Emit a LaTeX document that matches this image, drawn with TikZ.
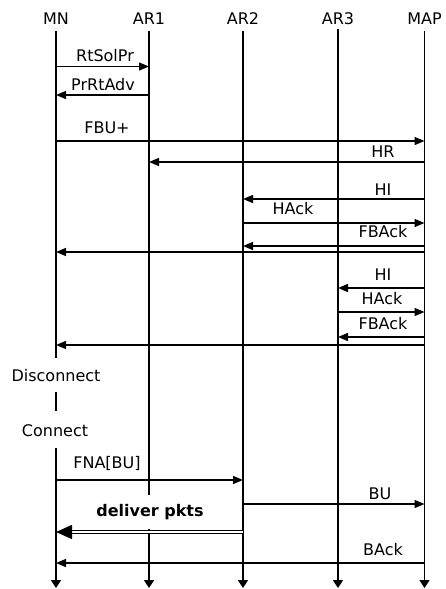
\documentclass[tikz,border=0pt]{standalone}
\usepackage{fontspec}
\setmainfont{DejaVu Sans}
\usetikzlibrary{arrows.meta}
\begin{document}
\begin{tikzpicture}[x=1pt,y=-1pt,
  hdr/.style={font=\fontsize{16}{19}\selectfont, inner sep=0pt},
  lab/.style={font=\fontsize{16}{19}\selectfont, inner sep=0pt},
  life/.style={line width=1.6pt, -{Triangle[length=8pt,width=10pt]}},
  lifeseg/.style={line width=1.6pt},
  msg/.style={line width=1.4pt, -{Triangle[length=10pt,width=8pt]}},
  bigmsg/.style={line width=1.6pt, double distance=1.1pt, -{Triangle[length=16pt,width=14pt]}}]
\useasboundingbox (0,0) rectangle (446,589);
% headers
\node[hdr] (MN)  at (56,19)  {MN};
\node[hdr] (AR1) at (149,19) {AR1};
\node[hdr] (AR2) at (243,19) {AR2};
\node[hdr] (AR3) at (338,19) {AR3};
\node[hdr] (MAP) at (424.5,19) {MAP};
% MN state labels
\node[lab] (disc) at (56,376) {Disconnect};
\node[lab] (conn) at (55,431) {Connect};
% lifelines
\draw[lifeseg] (MN |- 0,31) -- (MN |- 0,358);
\draw[lifeseg] (MN |- 0,392) -- (MN |- 0,411);
\draw[life] (MN |- 0,448) -- (MN |- 0,588);
\draw[life] (AR1 |- 0,31) -- (AR1 |- 0,588);
\draw[life] (AR2 |- 0,31) -- (AR2 |- 0,588);
\draw[life] (AR3 |- 0,29) -- (AR3 |- 0,588);
\draw[life] (MAP |- 0,31) -- (MAP |- 0,588);
% messages
\draw[msg] (MN |- 0,66.5) -- (AR1 |- 0,66.5);
\node[lab] (l1) at (105,56) {RtSolPr};
\draw[msg] (AR1 |- 0,95) -- (MN |- 0,95);
\node[lab] (l2) at (103,85) {PrRtAdv};
\draw[msg] (MN |- 0,141) -- (MAP |- 0,141);
\node[lab] (l3) at (107,128) {FBU+};
\draw[msg] (MAP |- 0,162) -- (AR1 |- 0,162);
\node[lab] (l4) at (383,152) {HR};
\draw[msg] (MAP |- 0,199) -- (AR2 |- 0,199);
\node[lab] (l5) at (383,190) {HI};
\draw[msg] (AR2 |- 0,223) -- (MAP |- 0,223);
\node[lab] (l6) at (293,209) {HAck};
\draw[msg] (MAP |- 0,246) -- (AR2 |- 0,246);
\node[lab] (l7) at (383,232) {FBAck};
\draw[msg] (MAP |- 0,252) -- (MN |- 0,252);
\draw[msg] (MAP |- 0,288) -- (AR3 |- 0,288);
\node[lab] (l8) at (383,275) {HI};
\draw[msg] (AR3 |- 0,312) -- (MAP |- 0,312);
\node[lab] (l9) at (382,299) {HAck};
\draw[msg] (MAP |- 0,337) -- (AR3 |- 0,337);
\node[lab] (l10) at (383,324) {FBAck};
\draw[msg] (MAP |- 0,345) -- (MN |- 0,345);
\draw[msg] (MN |- 0,480) -- (AR2 |- 0,480);
\node[lab] (l11) at (107,463) {FNA[BU]};
\draw[msg] (AR2 |- 0,504) -- (MAP |- 0,504);
\node[lab] (l12) at (380,494) {BU};
\node[lab, font=\fontsize{16}{19}\selectfont\bfseries, fill=white, minimum height=34pt] (l13) at (150,512) {deliver pkts};
\draw[bigmsg] (AR2 |- 0,532) -- (MN |- 0,532);
\draw[msg] (MAP |- 0,563) -- (MN |- 0,563);
\node[lab] (l14) at (383,550) {BAck};
\end{tikzpicture}
\end{document}
